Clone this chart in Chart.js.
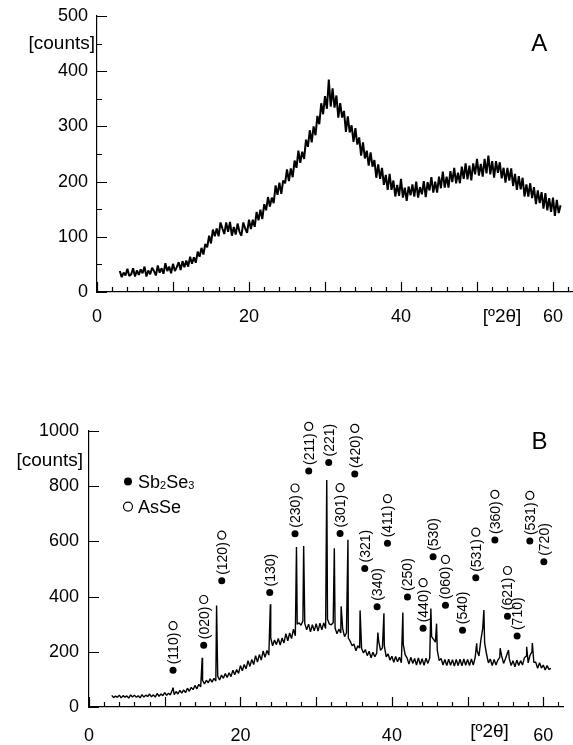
<!DOCTYPE html>
<html>
<head>
<meta charset="utf-8">
<title>XRD patterns</title>
<script src="https://cdn.jsdelivr.net/npm/chart.js@4.4.1/dist/chart.umd.min.js"></script>
<style>
    html, body { margin: 0; padding: 0; background: #fff; }
    #wrap { position: relative; width: 573px; height: 745px; overflow: hidden; }
    canvas { position: absolute; left: 0; }
    #chartA { top: 0; }
    #chartB { top: 400px; }
</style>
</head>
<body>
<div id="wrap">
    <canvas id="chartA" width="573" height="340"></canvas>
    <canvas id="chartB" width="573" height="345"></canvas>
</div>

<script>
    // scan grid (deg 2theta) shared by both patterns
    var scanStart = 3, scanStep = 0.25;
    var xTickLabels = [0, 20, 40, 60];

    // A: counts, four readings per degree (x.00 x.25 x.50 x.75)
    var countsA = [
        38, 27, 35, 30,   42, 29, 32, 43,   28, 39, 31, 41,   34, 46, 28, 39,     // 3-6
        32, 44, 38, 30,   48, 35, 43, 33,   52, 38, 46, 34,   51, 38, 45, 54,     // 7-10
        40, 56, 45, 57,   46, 64, 51, 63,   53, 73, 64, 80,   68, 87, 81, 102,    // 11-14
        88, 113, 101, 115, 101, 126, 115, 105, 126, 109, 127, 102, 118, 104, 124, 109, // 15-18
        102, 126, 115, 107, 131, 114, 131, 118, 145, 130, 149, 132, 159, 148, 172, 155, // 19-22
        171, 161, 193, 176, 198, 178, 202, 197, 222, 201, 224, 208, 238, 225, 256, 234, // 23-26
        254, 241, 276, 263, 293, 271, 300, 284, 319, 304, 342, 322, 355, 332, 385, 336, // 27-30
        369, 334, 356, 316, 342, 316, 328, 290, 318, 289, 302, 272, 297, 267, 280, 247, // 31-34
        271, 242, 256, 229, 253, 227, 239, 207, 231, 205, 225, 194, 212, 185, 214, 185, // 35-38
        202, 173, 194, 174, 205, 171, 189, 165, 191, 175, 195, 173, 200, 171, 190, 177, // 39-42
        201, 172, 199, 184, 208, 180, 200, 180, 209, 188, 218, 189, 209, 189, 219, 199, // 43-46
        225, 197, 216, 197, 227, 205, 233, 204, 229, 202, 233, 213, 241, 211, 232, 209, // 47-50
        241, 215, 247, 213, 237, 207, 237, 216, 235, 206, 225, 198, 225, 202, 224, 192, // 51-54
        214, 185, 210, 186, 207, 173, 195, 173, 197, 170, 190, 159, 184, 161, 181, 151, // 55-58
        179, 148, 170, 145, 171, 138, 167, 143,                                         // 59-60
        157
    ];

    // B: background counts on the same grid
    var countsB = [
        42, 34, 40, 35,   43, 33, 41, 36,   40, 32, 44, 36,   43, 35, 41, 33,     // 3-6
        45, 36, 43, 38,   47, 37, 44, 36,   49, 39, 47, 41,   52, 42, 50, 44,     // 7-10
        62, 45, 56, 47,   60, 50, 62, 52,   68, 57, 71, 63,   78, 66, 82, 73,     // 11-14
        96, 84, 97, 88,   102, 90, 104, 94, 112, 98, 116, 104, 121, 107, 124, 110, // 15-18
        133, 117, 136, 122, 150, 131, 154, 138, 168, 147, 172, 154, 186, 163, 190, 170, // 19-22
        203, 180, 205, 188, 250, 222, 243, 226, 248, 224, 250, 232, 266, 240, 268, 248, // 23-26
        282, 258, 300, 305, 296, 312, 302, 280, 300, 272, 298, 276, 302, 275, 304, 280, // 27-30
        305, 284, 318, 300, 298, 305, 286, 265, 282, 268, 284, 255, 268, 250, 238, 222, // 31-34
        228, 204, 222, 214, 212, 196, 208, 186, 202, 178, 198, 182, 195, 240, 205, 214, // 35-38
        222, 182, 192, 170, 184, 162, 183, 164, 180, 160, 228, 190, 178, 156, 180, 158, // 39-42
        176, 152, 178, 154, 175, 151, 177, 158, 178, 255, 245, 235, 205, 168, 176, 152, // 43-46
        172, 150, 173, 151, 171, 148, 172, 150, 173, 149, 174, 151, 172, 150, 174, 152, // 47-50
        180, 205, 185, 242, 285, 232, 192, 160, 174, 150, 172, 152, 170, 180, 185, 158, // 51-54
        175, 195, 176, 150, 168, 146, 170, 150, 168, 152, 178, 185, 160, 188, 200, 162, // 55-58
        162, 140, 160, 141, 152, 134, 150, 136,                                         // 59-60
        140
    ];

    // B: sharp reflections (2theta, top counts)
    var peakPosB = [11.1, 14.95, 16.85, 23.95, 27.4, 28.35, 31.4, 32.4, 33.3, 34.2, 35.8,
                    38.15, 38.95, 41.45, 45.15, 45.9, 51.2, 52.15, 54.3, 55.4, 57.8, 58.55];
    var peakTopB = [70, 178, 368, 372, 580, 583, 822, 575, 365, 606, 350,
                    270, 340, 342, 357, 302, 231, 351, 213, 206, 218, 232];

    // B: hkl marks, anchored at the filled dot (2theta, counts)
    var hklLabels = ['(110)', '(020)', '(120)', '(130)', '(230)', '(211)', '(221)', '(301)',
                     '(420)', '(321)', '(340)', '(411)', '(250)', '(440)', '(530)', '(060)',
                     '(540)', '(531)', '(360)', '(621)', '(710)', '(531)', '(720)'];
    var hklPos = [11.1, 15.15, 17.53, 23.87, 27.21, 29.02, 31.66, 33.16, 35.1, 36.42, 38.05, 39.42,
                  42.06, 44.12, 45.44, 47.08, 49.33, 51.08, 53.6, 55.27, 56.54, 58.22, 60.07];
    var hklHeight = [133, 224, 457, 415, 628, 855, 886, 629, 844, 502, 363, 593,
                     399, 285, 544, 369, 278, 468, 605, 329, 257, 601, 526];
    var hklAsSe = [true, true, true, false, true, true, false, true, true, false, false, true,
                   false, true, false, true, false, true, true, true, false, true, false];

    var FONT = '"Liberation Sans", Arial, Helvetica, sans-serif';

    function scanPoints(counts) {
        var pts = [];
        for (var i = 0; i < counts.length; i++) {
            pts.push({x: scanStart + i * scanStep, y: counts[i]});
        }
        return pts;
    }

    var pointsA = scanPoints(countsA);
    var pointsB = scanPoints(countsB);
    for (var k = 0; k < peakPosB.length; k++) {
        pointsB.push({x: peakPosB[k], y: peakTopB[k]});
    }
    pointsB.sort(function (a, b) { return a.x - b.x; });

    function isMult(v, m) {
        var r = Math.abs(v % m);
        return r < 1e-6 || Math.abs(r - m) < 1e-6;
    }

    function subText(ctx, parts, x, y) {
        // parts alternate normal / subscript
        for (var i = 0; i < parts.length; i++) {
            ctx.font = (i % 2 ? '11px ' : '18px ') + FONT;
            ctx.fillText(parts[i], x, y + (i % 2 ? 1 : 0));
            x += ctx.measureText(parts[i]).width;
        }
    }

    var xrdPlugin = {
        id: 'xrd',
        afterDraw: function (chart, args, o) {
            var ctx = chart.ctx, xs = chart.scales.x, ys = chart.scales.y, area = chart.chartArea;
            ctx.save();
            ctx.strokeStyle = '#000';
            ctx.fillStyle = '#000';
            ctx.lineWidth = 1.2;

            // inward tick marks
            ctx.beginPath();
            xs.ticks.forEach(function (t) {
                var px = Math.round(xs.getPixelForValue(t.value)) + 0.5;
                var len = isMult(t.value, 10) ? 10 : 5;
                ctx.moveTo(px, area.bottom);
                ctx.lineTo(px, area.bottom - len);
            });
            ys.ticks.forEach(function (t) {
                var py = Math.round(ys.getPixelForValue(t.value)) + 0.5;
                var len = isMult(t.value, o.yMajor) ? 10 : 5;
                ctx.moveTo(area.left, py);
                ctx.lineTo(area.left + len, py);
            });
            ctx.stroke();

            ctx.textBaseline = 'middle';
            ctx.font = '19px ' + FONT;
            ctx.textAlign = 'right';
            ctx.fillText('[counts]', area.left - o.countsGap, ys.getPixelForValue(o.countsAt));
            ctx.textAlign = 'center';
            ctx.fillText('[º2θ]', xs.getPixelForValue(o.angleAt), area.bottom + 25);
            ctx.font = '24px ' + FONT;
            ctx.fillText(o.panel, xs.getPixelForValue(o.panelX), ys.getPixelForValue(o.panelY));

            if (o.hkl) {
                // legend
                var lx = xs.getPixelForValue(5.15);
                var ly1 = ys.getPixelForValue(817), ly2 = ys.getPixelForValue(726);
                ctx.beginPath();
                ctx.arc(lx, ly1, 4, 0, 2 * Math.PI);
                ctx.fill();
                ctx.beginPath();
                ctx.arc(lx, ly2, 4.5, 0, 2 * Math.PI);
                ctx.stroke();
                ctx.textAlign = 'left';
                ctx.textBaseline = 'alphabetic';
                subText(ctx, ['Sb', '2', 'Se', '3'], lx + 10, ly1 + 6.5);
                ctx.font = '18px ' + FONT;
                ctx.fillText('AsSe', lx + 10, ly2 + 6.5);

                // reflection marks
                ctx.font = '14px ' + FONT;
                ctx.textBaseline = 'middle';
                for (var i = 0; i < hklLabels.length; i++) {
                    var px = xs.getPixelForValue(hklPos[i]);
                    var py = ys.getPixelForValue(hklHeight[i]);
                    ctx.save();
                    ctx.translate(px, py);
                    ctx.rotate(-Math.PI / 2);
                    ctx.beginPath();
                    ctx.arc(0, 0, 3.5, 0, 2 * Math.PI);
                    ctx.fill();
                    ctx.fillText(hklLabels[i], 6, 1);
                    if (hklAsSe[i]) {
                        var w = ctx.measureText(hklLabels[i]).width;
                        ctx.beginPath();
                        ctx.arc(6 + w + 7, 0, 4, 0, 2 * Math.PI);
                        ctx.stroke();
                    }
                    ctx.restore();
                }
            }
            ctx.restore();
        }
    };

    function makeChart(id, points, cfg) {
        return new Chart(document.getElementById(id), {
            type: 'line',
            data: {
                datasets: [{
                    data: points,
                    borderColor: '#000',
                    borderWidth: cfg.lineW,
                    borderJoinStyle: 'bevel',
                    pointRadius: 0,
                    tension: 0,
                    fill: false
                }]
            },
            options: {
                responsive: false,
                animation: false,
                events: [],
                layout: {padding: {top: cfg.top, right: cfg.right, left: 0, bottom: 0}},
                plugins: {
                    legend: {display: false},
                    tooltip: {enabled: false},
                    xrd: cfg
                },
                scales: {
                    x: {
                        type: 'linear',
                        min: 0,
                        max: cfg.xMax,
                        border: {color: '#000', width: 1.2},
                        grid: {drawOnChartArea: false, drawTicks: false},
                        ticks: {
                            stepSize: 2,
                            includeBounds: false,
                            autoSkip: false,
                            maxRotation: 0,
                            padding: cfg.xPad,
                            color: '#000',
                            font: {family: FONT, size: 18},
                            callback: function (v) {
                                return xTickLabels.indexOf(v) >= 0 ? String(v) : '';
                            }
                        },
                        afterFit: function (s) {
                            s.height = cfg.xAxisH;
                            s.paddingLeft = 0;
                            s.paddingRight = 0;
                        }
                    },
                    y: {
                        min: 0,
                        max: cfg.yMax,
                        border: {color: '#000', width: 1.2},
                        grid: {drawOnChartArea: false, drawTicks: false},
                        ticks: {
                            stepSize: cfg.yStep,
                            autoSkip: false,
                            padding: cfg.yPad,
                            color: '#000',
                            font: {family: FONT, size: 18},
                            callback: function (v) {
                                return isMult(v, cfg.yMajor) ? String(v) : '';
                            }
                        },
                        afterFit: function (s) {
                            s.width = cfg.yAxisW;
                            s.paddingTop = 0;
                            s.paddingBottom = 0;
                        }
                    }
                }
            },
            plugins: [xrdPlugin]
        });
    }

    makeChart('chartA', pointsA, {
        top: 16, right: 1, xMax: 62.5, yMax: 500, yStep: 50, yMajor: 100,
        xAxisH: 48, yAxisW: 97, xPad: 14, yPad: 9, lineW: 2,
        countsAt: 450, countsGap: 2, angleAt: 53.3,
        panel: 'A', panelX: 58.2, panelY: 448, hkl: false
    });

    makeChart('chartB', pointsB, {
        top: 31, right: 10, xMax: 62.6, yMax: 1000, yStep: 200, yMajor: 200,
        xAxisH: 38, yAxisW: 89, xPad: 18, yPad: 10, lineW: 1.4,
        countsAt: 892, countsGap: 6, angleAt: 52.9,
        panel: 'B', panelX: 59.5, panelY: 957, hkl: true
    });
</script>
</body>
</html>
